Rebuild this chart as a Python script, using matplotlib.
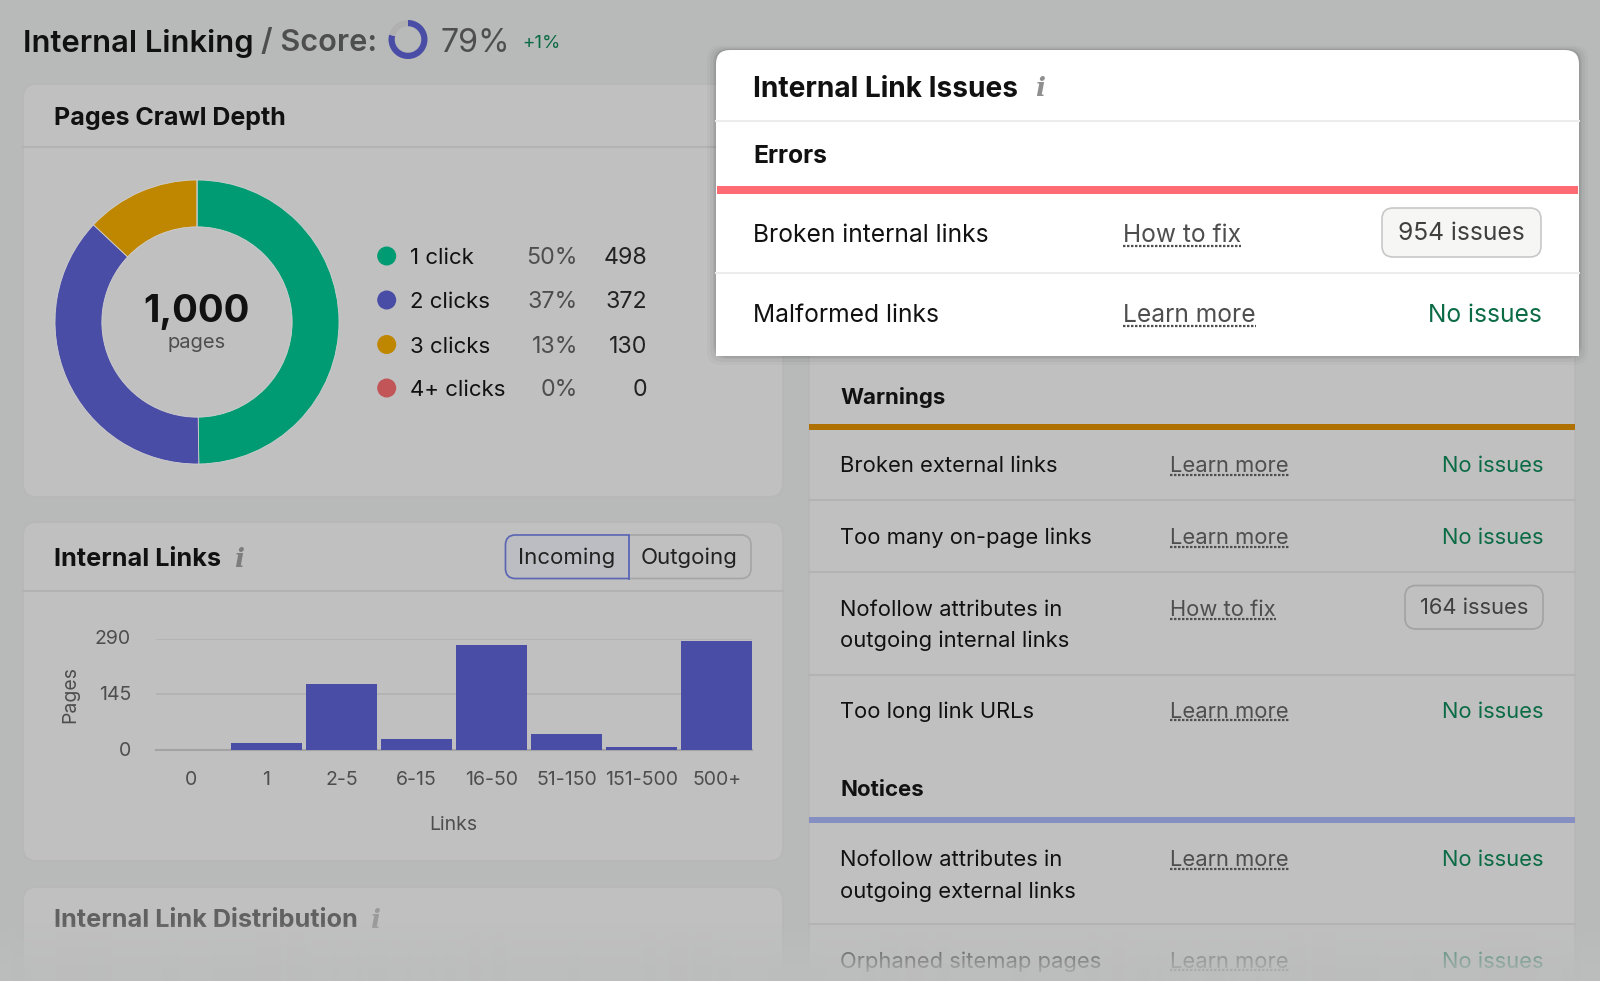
import matplotlib
matplotlib.use('Agg')
import matplotlib.pyplot as plt
from matplotlib.patches import FancyBboxPatch, Rectangle, Circle
from matplotlib.transforms import ScaledTranslation
import numpy as np

plt.rcParams['font.family'] = ['Inter', 'DejaVu Sans']

# data
depth_labels = ['1 click', '2 clicks', '3 clicks', '4+ clicks']
depth_pct = ['50%', '37%', '13%', '0%']
depth_values = [498, 372, 130, 0]
depth_colors = ['#009b72', '#4a4da5', '#bf8600', '#c25558']
score = [79, 21]

link_bins = ['0', '1', '2-5', '6-15', '16-50', '51-150', '151-500', '500+']
link_pages = [1, 17, 171, 28, 273, 41, 8, 285]
y_ticks = [0, 145, 290]

error_rows = [('Broken internal links', 'How to fix', '954 issues'),
              ('Malformed links', 'Learn more', 'No issues')]
warning_rows = [('Broken external links', 'Learn more', 'No issues'),
                ('Too many on-page links', 'Learn more', 'No issues'),
                ('Nofollow attributes in\noutgoing internal links', 'How to fix', '164 issues'),
                ('Too long link URLs', 'Learn more', 'No issues')]
notice_rows = [('Nofollow attributes in\noutgoing external links', 'Learn more', 'No issues'),
               ('Orphaned sitemap pages', 'Learn more', 'No issues')]

BG = '#b8bab9'
CARD = '#c0c0c0'
LINE = '#b3b3b3'
DARK = '#111111'
MID = '#4e4e4e'
GREEN = '#0b6b45'

fig = plt.figure(figsize=(16, 9.81), dpi=100, facecolor=BG)
ax = fig.add_axes([0, 0, 1, 1])
ax.set_xlim(0, 1600)
ax.set_ylim(981, 0)
ax.axis('off')
renderer = fig.canvas.get_renderer()


def txt(x, y, s, size=18, color=DARK, weight='normal', ha='left', z=5, **kw):
    return ax.text(x, y + 2.5, s, fontsize=size, color=color, fontweight=weight, ha=ha,
                   va='center', zorder=z, **kw)


def card(x0, y0, x1, y1, fc=CARD, ec='#b7b7b7', r=14, z=1):
    p = FancyBboxPatch((x0 + r, y0 + r), x1 - x0 - 2 * r, y1 - y0 - 2 * r,
                       boxstyle='round,pad=%d,rounding_size=%d' % (r, r),
                       fc=fc, ec=ec, lw=1.2, zorder=z)
    ax.add_patch(p)
    return p


def info(x, y, color='#7d7d7d', z=5):
    txt(x, y - 1, 'i', size=19, color=color, weight='bold', ha='center', z=z, style='italic',
        family=['DejaVu Serif'])


def link(x, y, s, size=18, z=5, color=MID):
    t = txt(x, y, s, size=size, color=color, z=z)
    bb = t.get_window_extent(renderer)
    off = size * 0.72
    ax.plot([x, x + bb.width], [y + off, y + off], color=color, lw=1.6, ls=(0, (1.1, 0.7)), zorder=z)


def pill(x0, y0, x1, y1, s, size=18, fc=CARD, ec='#a2a2a2', z=5):
    card(x0, y0, x1, y1, fc=fc, ec=ec, r=11, z=z)
    txt((x0 + x1) / 2, (y0 + y1) / 2 - 1.5, s, size=size, color='#404040', ha='center', z=z + 1)


# page header
txt(23, 41, 'Internal Linking', size=22.3, weight='semibold')
txt(261, 41, '/ Score:', size=22.1, color=MID, weight='semibold')
txt(440, 41, '79%', size=23.2, color=MID)
txt(522, 41, '+1%', size=13.5, color=GREEN)
ring = fig.add_axes([388.5 / 1600, 1 - 59 / 981, 39 / 1600, 39 / 981])
ring.pie(score, colors=['#4a4da5', '#b0b0b0'], startangle=90, counterclock=False,
         wedgeprops={'width': 0.32})
ring.set_xlim(-1, 1)
ring.set_ylim(-1, 1)

# crawl depth card
card(23, 84, 783, 497)
ax.plot([23, 783], [147, 147], color=LINE, lw=1.5, zorder=2)
txt(54.5, 116.5, 'Pages Crawl Depth', size=18, weight='bold')
donut = fig.add_axes([55 / 1600, 1 - 464 / 981, 284 / 1600, 284 / 981])
donut.pie(depth_values, colors=depth_colors, startangle=90, counterclock=False,
          wedgeprops={'width': 0.33, 'edgecolor': '#d0d0d0', 'linewidth': 0.6})
donut.set_xlim(-1, 1)
donut.set_ylim(-1, 1)
txt(196.5, 309, '1,000', size=27.5, weight='bold', ha='center')
txt(196.5, 340.5, 'pages', size=14.5, color=MID, ha='center')
for i, yy in enumerate([256, 300, 344.5, 388]):
    ax.add_patch(Circle((386.7, yy), 9.5, fc=depth_colors[i], ec='none', zorder=4))
    txt(410.5, yy, depth_labels[i], size=16)
    txt(578, yy, depth_pct[i], size=16.7, color=MID, ha='right')
    txt(647.5, yy, str(depth_values[i]), size=16.7, color='#222222', ha='right')

# internal links card
card(23, 522, 783, 861)
ax.plot([23, 783], [591, 591], color=LINE, lw=1.5, zorder=2)
txt(54.5, 557, 'Internal Links', size=18.2, weight='bold')
info(239, 558)
card(505.5, 535, 751, 578.5, fc=CARD, ec='#a5a5a5', r=10, z=2)
sel = card(505.5, 535, 650, 578.5, fc='#bcbdc2', ec='#5b66b5', r=10, z=3)
sel.set_clip_path(Rectangle((504, 533), 124.5, 48, transform=ax.transData))
ax.plot([628.5, 628.5], [535, 578.5], color='#5b66b5', lw=1.3, zorder=4)
txt(566.5, 555, 'Incoming', size=16, color='#222222', ha='center')
txt(689, 555, 'Outgoing', size=16, color='#222222', ha='center')

bars = fig.add_axes([156 / 1600, 1 - 750 / 981, 595.5 / 1600, 111.3 / 981], facecolor='none')
xs = np.arange(len(link_bins))
bars.bar(xs, link_pages, width=0.947, color='#4a4da5', zorder=3)
bars.set_xlim(-0.47, 7.465)
bars.set_ylim(0, 290)
bars.set_xticks(xs, link_bins)
bars.set_yticks(y_ticks, [str(v) for v in y_ticks])
bars.grid(axis='y', color='#b2b2b2', lw=1.3, zorder=0)
bars.set_axisbelow(True)
for s in ['top', 'right', 'left']:
    bars.spines[s].set_visible(False)
bars.spines['bottom'].set_color('#a3a3a3')
bars.spines['bottom'].set_linewidth(1.5)
bars.tick_params(axis='both', length=0, labelsize=14, labelcolor=MID)
bars.tick_params(axis='x', pad=15)
bars.tick_params(axis='y', pad=18)
bars.patch.set_alpha(0)
for lab in bars.get_xticklabels() + bars.get_yticklabels():
    lab.set_clip_on(False)
    lab.set_zorder(10)
for lab in bars.get_yticklabels():
    lab.set_transform(lab.get_transform() + ScaledTranslation(0, 1.5 / 100, fig.dpi_scale_trans))
txt(453.5, 822, 'Links', size=14, color=MID, ha='center')
txt(70, 692, 'Pages', size=14, color=MID, ha='center', rotation=90, rotation_mode='anchor')

# cut off distribution card
card(23, 887, 783, 1010)
txt(54.5, 918, 'Internal Link Distribution', size=18.2, color='#616161', weight='bold')
info(375.5, 919, color='#9a9a9a')

# issues card underneath the popup
ax.add_patch(Rectangle((808.5, 300), 766.5, 700, fc=CARD, ec='#b7b7b7', lw=1.2, zorder=1))
txt(840, 394.5, 'Warnings', size=16, weight='bold')
ax.add_patch(Rectangle((808.5, 423.5), 766.5, 6, fc='#ae7100', ec='none', zorder=3))
ax.add_patch(Rectangle((808.5, 817), 766.5, 6, fc='#868fc2', ec='none', zorder=3))
txt(840, 787.5, 'Notices', size=16, weight='bold')
for yy in [500, 572, 675, 924]:
    ax.plot([808.5, 1575], [yy, yy], color=LINE, lw=1.5, zorder=2)
for row, yy in zip(warning_rows + notice_rows, [464, 535.5, 607.5, 709, 858, 959]):
    lines = row[0].split('\n')
    for j, part in enumerate(lines):
        txt(840, yy + 31 * j, part, size=15.8)
    link(1170, yy, row[1], size=15.8)
    if row[2].startswith('No'):
        txt(1544, yy, row[2], size=15.8, color=GREEN, ha='right')
    else:
        pill(1405, yy - 22, 1543, yy + 21.5, row[2], size=15.8)

# fade at the bottom edge
fade = np.zeros((64, 1, 4))
fade[:, :, :3] = matplotlib.colors.to_rgb('#bcbdbd')
fade[:, 0, 3] = np.clip(np.linspace(-0.1, 1.0, 64), 0, 1) ** 0.8
ax.imshow(fade, extent=[0, 1600, 981, 917], aspect='auto', zorder=8, interpolation='bilinear')
ax.set_xlim(0, 1600)
ax.set_ylim(981, 0)

# popup
for k, a in zip([9, 6, 3, 1.5], [0.025, 0.035, 0.05, 0.07]):
    sh = card(716 - k, 50 - k / 2, 1579 + k, 356 + k, fc='black', ec='none', r=14, z=9)
    sh.set_alpha(a)
card(716, 50, 1579, 356, fc='white', ec='none', r=14, z=10)
ax.add_patch(Rectangle((716, 330), 863, 26, fc='white', ec='none', zorder=10))
ax.plot([716, 1579], [121, 121], color='#ececec', lw=1.5, zorder=11)
ax.plot([716, 1579], [273, 273], color='#ececec', lw=1.5, zorder=11)
ax.add_patch(Rectangle((717, 186), 861, 7.5, fc='#ff6b72', ec='none', zorder=11))
txt(753, 87, 'Internal Link Issues', size=20.2, weight='bold', z=12)
info(1040, 87, color='#8f8f8f', z=12)
txt(753, 154, 'Errors', size=17.8, weight='bold', z=12)
for row, yy in zip(error_rows, [233, 313]):
    txt(753, yy, row[0], size=17.7, z=12)
    link(1123, yy, row[1], size=17.7, z=12)
    if row[2].startswith('No'):
        txt(1542, yy, row[2], size=17.7, color=GREEN, ha='right', z=12)
    else:
        pill(1382, yy - 25, 1541, yy + 24, row[2], size=17.7, fc='#f6f6f5', ec='#c8c8c8', z=12)

fig.savefig('out.png', dpi=100, facecolor=BG)
